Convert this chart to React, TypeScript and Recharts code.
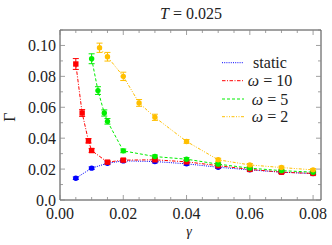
import React from 'react';
import { LineChart, Line, XAxis, YAxis, ErrorBar } from 'recharts';

// ---------- data ----------
const staticX = [0.005, 0.01, 0.015, 0.02, 0.03, 0.04, 0.05, 0.06, 0.07, 0.08];
const staticY = [0.0141, 0.0206, 0.0238, 0.0253, 0.0249, 0.0234, 0.0212, 0.0195, 0.018, 0.0171];
const staticE = [0.0008, 0.0008, 0.0009, 0.0009, 0.0009, 0.0009, 0.0008, 0.0008, 0.0008, 0.0008];

const w10X = [0.005, 0.007, 0.009, 0.01, 0.015, 0.02, 0.03, 0.04, 0.05, 0.06, 0.07, 0.08];
const w10Y = [0.088, 0.0563, 0.0383, 0.032, 0.0245, 0.0258, 0.026, 0.0247, 0.0222, 0.0198, 0.018, 0.0172];
const w10E = [0.0035, 0.0022, 0.0014, 0.0012, 0.001, 0.001, 0.001, 0.001, 0.0009, 0.0009, 0.0008, 0.0008];

const w5X = [0.01, 0.012, 0.014, 0.015, 0.02, 0.03, 0.04, 0.05, 0.06, 0.07, 0.08];
const w5Y = [0.0914, 0.0708, 0.0563, 0.0509, 0.0318, 0.0281, 0.0264, 0.0232, 0.0206, 0.019, 0.018];
const w5E = [0.0032, 0.0025, 0.002, 0.0018, 0.0012, 0.001, 0.001, 0.0009, 0.0009, 0.0008, 0.0008];

const w2X = [0.0125, 0.015, 0.02, 0.025, 0.03, 0.04, 0.05, 0.06, 0.07, 0.08];
const w2Y = [0.0985, 0.0927, 0.08, 0.0628, 0.0535, 0.0379, 0.026, 0.0227, 0.021, 0.0195];
const w2E = [0.003, 0.0028, 0.0027, 0.0022, 0.002, 0.0012, 0.001, 0.0009, 0.0009, 0.0008];

const xTicks = [0, 0.005, 0.01, 0.015, 0.02, 0.025, 0.03, 0.035, 0.04, 0.045, 0.05, 0.055, 0.06, 0.065, 0.07, 0.075, 0.08];
const yTicks = [0, 0.01, 0.02, 0.03, 0.04, 0.05, 0.06, 0.07, 0.08, 0.09, 0.1, 0.11];
const xLabels: Record<string, string> = { '0': '0.00', '0.02': '0.02', '0.04': '0.04', '0.06': '0.06', '0.08': '0.08' };
const yLabels: Record<string, string> = { '0': '0.0', '0.02': '0.02', '0.04': '0.04', '0.06': '0.06', '0.08': '0.08', '0.1': '0.10' };

const seriesNames = ['static', 'ω = 10', 'ω = 5', 'ω = 2'];
const colors = ['#0000ff', '#ff0000', '#00ee00', '#ffbf00'];
const dashes = ['1 1.2', '3.5 1.5 1 1.5', '3 2', '3 1.5 1 1.5 1 1.5'];

const zip = (xs: number[], ys: number[], es: number[]) => xs.map((x, i) => ({ x, y: ys[i], e: es[i] }));
const staticData = zip(staticX, staticY, staticE);
const w10Data = zip(w10X, w10Y, w10E);
const w5Data = zip(w5X, w5Y, w5E);
const w2Data = zip(w2X, w2Y, w2E);

// ---------- styling ----------
const FONT = "'Liberation Serif', 'Times New Roman', 'DejaVu Serif', serif";
const TS = { fontFamily: FONT, fontSize: 16 } as React.CSSProperties;
const AX = '#444';
const TICK = '#888';
const TXT = '#222';

const isMajor = (v: number, step: number) => Math.abs(v / step - Math.round(v / step)) < 1e-6;
const key = (v: number) => String(Math.round(v * 1000) / 1000);

const XTickBottom = (p: any) => {
  const v = p.payload.value;
  const major = isMajor(v, 0.02);
  const lab = xLabels[key(v)];
  return (
    <g>
      <line x1={p.x} x2={p.x} y1={p.y} y2={p.y - (major ? 5 : 3)} stroke={TICK} strokeWidth={0.8} />
      {lab && (
        <text x={p.x} y={p.y + 19} textAnchor="middle" style={TS} fill={TXT}>
          {lab}
        </text>
      )}
    </g>
  );
};
const XTickTop = (p: any) => {
  const v = p.payload.value;
  const major = isMajor(v, 0.02);
  return <line x1={p.x} x2={p.x} y1={p.y} y2={p.y + (major ? 5 : 3)} stroke={TICK} strokeWidth={0.8} />;
};
const YTickLeft = (p: any) => {
  const v = p.payload.value;
  const major = isMajor(v, 0.02);
  const lab = yLabels[key(v)];
  return (
    <g>
      <line x1={p.x} x2={p.x + (major ? 5 : 3)} y1={p.y} y2={p.y} stroke={TICK} strokeWidth={0.8} />
      {lab && (
        <text x={p.x - 4} y={p.y + 5.5} textAnchor="end" style={TS} fill={TXT}>
          {lab}
        </text>
      )}
    </g>
  );
};
const YTickRight = (p: any) => {
  const v = p.payload.value;
  const major = isMajor(v, 0.02);
  return <line x1={p.x} x2={p.x - (major ? 5 : 3)} y1={p.y} y2={p.y} stroke={TICK} strokeWidth={0.8} />;
};

const circleDot = (color: string) => (p: any) =>
  p.cx == null ? null : <circle key={`c-${p.index}`} cx={p.cx} cy={p.cy} r={2.7} fill={color} stroke="none" />;
const squareDot = (color: string) => (p: any) =>
  p.cx == null ? null : <rect key={`s-${p.index}`} x={p.cx - 2.7} y={p.cy - 2.7} width={5.4} height={5.4} fill={color} stroke="none" />;

const datasets = [staticData, w10Data, w5Data, w2Data];
const dotFns = [circleDot(colors[0]), squareDot(colors[1]), circleDot(colors[2]), circleDot(colors[3])];

const legendY = [62.7, 80.7, 99, 116.7];

export default function App() {
  return (
    <div style={{ position: 'absolute', left: 0, top: 0, width: 332, height: 245, background: '#fff', fontFamily: FONT }}>
      <LineChart width={332} height={245} margin={{ top: 29, right: 10, bottom: 0, left: 0 }}>
        <XAxis
          type="number"
          dataKey="x"
          domain={[0, 0.0825]}
          ticks={xTicks}
          interval={0}
          allowDataOverflow
          tickSize={0}
          tickMargin={0}
          tickLine={false}
          tick={<XTickBottom />}
          axisLine={{ stroke: AX, strokeWidth: 1 }}
          height={45}
        />
        <XAxis
          xAxisId="top"
          orientation="top"
          type="number"
          dataKey="x"
          domain={[0, 0.0825]}
          ticks={xTicks}
          interval={0}
          allowDataOverflow
          tickSize={0}
          tickMargin={0}
          tickLine={false}
          tick={<XTickTop />}
          axisLine={{ stroke: AX, strokeWidth: 1 }}
          height={1}
        />
        <YAxis
          type="number"
          domain={[0, 0.11]}
          ticks={yTicks}
          interval={0}
          allowDataOverflow
          tickSize={0}
          tickMargin={0}
          tickLine={false}
          tick={<YTickLeft />}
          axisLine={{ stroke: AX, strokeWidth: 1 }}
          width={60}
        />
        <YAxis
          yAxisId="right"
          orientation="right"
          type="number"
          domain={[0, 0.11]}
          ticks={yTicks}
          interval={0}
          allowDataOverflow
          tickSize={0}
          tickMargin={0}
          tickLine={false}
          tick={<YTickRight />}
          axisLine={{ stroke: AX, strokeWidth: 1 }}
          width={1}
        />
        <Line
          xAxisId="top"
          yAxisId="right"
          data={staticData}
          dataKey="y"
          stroke="none"
          dot={false}
          activeDot={false}
          isAnimationActive={false}
          legendType="none"
        />
        {datasets.map((d, i) => (
          <Line
            key={seriesNames[i]}
            name={seriesNames[i]}
            data={d}
            dataKey="y"
            stroke={colors[i]}
            strokeWidth={1}
            strokeDasharray={dashes[i]}
            dot={dotFns[i]}
            activeDot={false}
            isAnimationActive={false}
          >
            <ErrorBar dataKey="e" width={3} stroke={colors[i]} strokeWidth={1} direction="y" isAnimationActive={false} />
          </Line>
        ))}
      </LineChart>
      <svg
        width={332}
        height={245}
        style={{ position: 'absolute', left: 0, top: 0, pointerEvents: 'none', fontFamily: FONT }}
      >
        <text x={191} y={18.5} textAnchor="middle" style={TS} fill={TXT}>
          <tspan fontStyle="italic">T</tspan>
          <tspan> = 0.025</tspan>
        </text>
        <text x={189} y={236} textAnchor="middle" style={{ fontFamily: FONT, fontSize: 14 }} fontStyle="italic" fill={TXT}>
          γ
        </text>
        <text x={14.5} y={117} textAnchor="middle" style={TS} fill={TXT} transform="rotate(-90 14.5 117)">
          Γ
        </text>
        {seriesNames.map((n, i) => (
          <g key={n}>
            <line x1={222} x2={244} y1={legendY[i]} y2={legendY[i]} stroke={colors[i]} strokeWidth={1} strokeDasharray={dashes[i]} />
            <text x={270} y={legendY[i] + 5.5} textAnchor="middle" style={TS} fill={TXT}>
              {i === 0 ? (
                'static'
              ) : (
                <>
                  <tspan fontStyle="italic">ω</tspan>
                  <tspan>{n.slice(1)}</tspan>
                </>
              )}
            </text>
          </g>
        ))}
      </svg>
    </div>
  );
}
